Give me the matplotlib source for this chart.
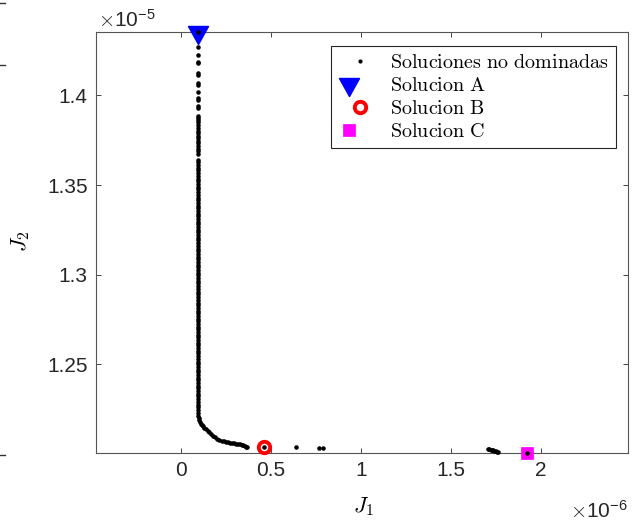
import numpy as np
import matplotlib
matplotlib.use('Agg')
import matplotlib.pyplot as plt
from matplotlib.path import Path
from matplotlib.lines import Line2D
from matplotlib.legend_handler import HandlerTuple

plt.rcParams['mathtext.fontset'] = 'cm'
plt.rcParams['font.family'] = ['Liberation Sans', 'DejaVu Sans']

# ---------------- data (J1 in 1e-6, J2 in 1e-5) ----------------
vertical_x = 0.094
front_top_y = [1.4353, 1.4269, 1.4225, 1.4186, 1.4180, 1.4124, 1.4113, 1.4069,
               1.4058, 1.4019, 1.3985, 1.3974, 1.3941, 1.3930, 1.3885, 1.3874]
front_dense_y = [1.3862, 1.3849, 1.3833, 1.3820, 1.3803, 1.3790, 1.3774, 1.3761,
                 1.3745, 1.3732, 1.3716, 1.3703, 1.3688, 1.3673,
                 1.3640, 1.3626, 1.3610, 1.3596, 1.3581, 1.3565, 1.3551, 1.3536,
                 1.3520, 1.3506, 1.3491, 1.3475, 1.3461, 1.3446, 1.3430, 1.3416,
                 1.3401, 1.3385, 1.3371, 1.3356, 1.3340, 1.3326, 1.3311, 1.3295,
                 1.3281, 1.3266, 1.3250, 1.3236, 1.3221, 1.3205, 1.3191, 1.3176,
                 1.3160, 1.3146, 1.3131, 1.3115, 1.3101, 1.3086, 1.3070, 1.3056,
                 1.3041, 1.3025, 1.3011, 1.2996, 1.2980, 1.2966, 1.2951, 1.2935,
                 1.2921, 1.2906, 1.2890, 1.2876, 1.2861, 1.2845, 1.2831, 1.2816,
                 1.2800, 1.2786, 1.2771, 1.2755, 1.2741, 1.2726, 1.2710, 1.2696,
                 1.2681, 1.2665, 1.2651, 1.2636, 1.2620, 1.2606, 1.2591, 1.2575,
                 1.2561, 1.2546, 1.2530, 1.2516, 1.2501, 1.2485, 1.2471, 1.2456,
                 1.2440, 1.2426, 1.2411, 1.2395, 1.2381, 1.2366, 1.2350, 1.2336,
                 1.2321, 1.2305, 1.2291, 1.2276, 1.2260, 1.2246]
curve_x = [0.094, 0.095, 0.097, 0.100, 0.104, 0.109, 0.115, 0.121, 0.128, 0.137,
           0.146, 0.155, 0.165, 0.176, 0.188, 0.200, 0.212, 0.224, 0.236, 0.248,
           0.260, 0.271, 0.282, 0.293, 0.304, 0.315, 0.326, 0.337, 0.346, 0.354,
           0.360, 0.365]
curve_y = [1.2228, 1.2215, 1.2203, 1.2190, 1.2179, 1.2170, 1.2163, 1.2156, 1.2148, 1.2139,
           1.2130, 1.2121, 1.2112, 1.2103, 1.2094, 1.2086, 1.2080, 1.2075, 1.2071, 1.2068,
           1.2065, 1.2062, 1.2060, 1.2059, 1.2058, 1.2057, 1.2054, 1.2051, 1.2048, 1.2045,
           1.2042, 1.2040]
tail_x = [0.459, 0.639, 0.766, 0.788, 1.706, 1.713, 1.720, 1.727, 1.734, 1.741,
          1.748, 1.755, 1.761, 1.922]
tail_y = [1.2037, 1.2039, 1.2034, 1.2034, 1.2030, 1.2028, 1.2025, 1.2023, 1.2021, 1.2018,
          1.2015, 1.2012, 1.2010, 1.2006]

sol_A = (0.094, 1.4353)
sol_B = (0.459, 1.2037)
sol_C = (1.922, 1.2006)

x_ticks = [0, 0.5, 1, 1.5, 2]
x_ticklabels = ['0', '0.5', '1', '1.5', '2']
y_ticks = [1.25, 1.3, 1.35, 1.4]
y_ticklabels = ['1.25', '1.3', '1.35', '1.4']
x_lim = (-0.474, 2.484)
y_lim = (1.2006, 1.4353)

labels = [r'$\mathrm{Soluciones\ no\ dominadas}$', r'$\mathrm{Solucion\ A}$',
          r'$\mathrm{Solucion\ B}$', r'$\mathrm{Solucion\ C}$']

# ---------------- figure ----------------
W, H = 632, 523
fig = plt.figure(figsize=(W / 100, H / 100), dpi=100)
ax = fig.add_axes([96 / W, (H - 453) / H, 532 / W, 421 / H])

tri = Path([(-1, 0.6), (1, 0.6), (0, -1.2), (-1, 0.6)],
           [Path.MOVETO, Path.LINETO, Path.LINETO, Path.CLOSEPOLY])

ax.plot([sol_A[0]], [sol_A[1]], ls='none', marker=tri, ms=17.3, mfc='#0000ff',
        mec='#0000ff', clip_on=False, zorder=3)
ax.plot([sol_B[0]], [sol_B[1]], ls='none', marker='o', ms=8.2, mfc='none',
        mec='#ff0000', mew=2.8, clip_on=False, zorder=3)
ax.plot([sol_C[0]], [sol_C[1]], ls='none', marker='s', ms=8.3, mfc='#ff00ff',
        mec='#ff00ff', mew=0.5, clip_on=False, zorder=3)

front_x = ([vertical_x] * len(front_top_y)) + ([vertical_x] * len(front_dense_y)) + curve_x + tail_x
front_y = front_top_y + front_dense_y + curve_y + tail_y
ax.plot(front_x, front_y, ls='none', marker='.', ms=4.5, color='black',
        clip_on=False, zorder=4)

ax.set_xlim(*x_lim)
ax.set_ylim(*y_lim)
ax.set_xticks(x_ticks)
ax.set_xticklabels(x_ticklabels)
ax.set_yticks(y_ticks)
ax.set_yticklabels(y_ticklabels)
ax.tick_params(direction='in', length=3.6, width=0.6, top=True, right=True,
               labelsize=15, pad=6, colors='#262626')
for s in ax.spines.values():
    s.set_color('#555555')
    s.set_linewidth(0.8)

# legend
h_front = Line2D([], [], ls='none', marker='.', ms=4.0, color='black')
h_A = (Line2D([], [], ls='none', marker=tri, ms=17.3, mfc='#0000ff', mec='#0000ff'),
       Line2D([], [], ls='none', marker='.', ms=2.5, color='white'))
h_B = (Line2D([], [], ls='none', marker='o', ms=8.2, mfc='none', mec='#ff0000', mew=2.8),)
h_C = (Line2D([], [], ls='none', marker='s', ms=8.3, mfc='#ff00ff', mec='#ff00ff', mew=0.5),
       Line2D([], [], ls='none', marker='.', ms=2.5, color='white'))
leg = ax.legend([h_front, h_A, h_B, h_C], labels,
                handler_map={tuple: HandlerTuple(ndivide=None, pad=0)},
                loc='upper right', bbox_to_anchor=(616 / W, 1 - 46 / H),
                bbox_transform=fig.transFigure, borderaxespad=0,
                fancybox=False, framealpha=1, edgecolor='#262626',
                prop={'size': 14.5}, handlelength=2.2, handletextpad=0.4,
                borderpad=0.35, labelspacing=0.2)
leg.get_frame().set_linewidth(0.8)

# axis labels and exponents
fig.text(21 / W, 1 - 241 / H, r'$J_2$', rotation=90, ha='center', va='center',
         fontsize=16)
fig.text(363 / W, 1 - 507 / H, r'$J_1$', ha='center', va='center', fontsize=16)
fig.text(98 / W, 1 - 27 / H, r'$\times\mathregular{10^{-5}}$', ha='left',
         va='baseline', fontsize=15, color='#262626')
fig.text(628 / W, 1 - 518 / H, r'$\times\mathregular{10^{-6}}$', ha='right',
         va='baseline', fontsize=15, color='#262626')

# small marks at the left edge
for yy in [3, 65, 455]:
    fig.add_artist(Line2D([0, 5 / W], [1 - yy / H, 1 - yy / H],
                          transform=fig.transFigure, color='#333333', lw=1))

fig.savefig('out.png', dpi=100)
